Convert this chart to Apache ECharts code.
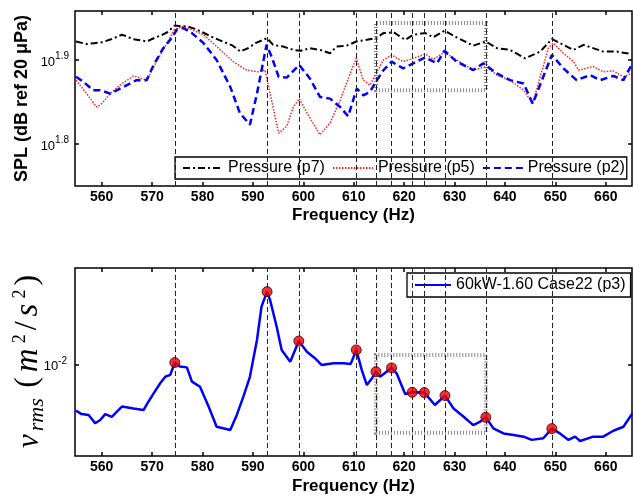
<!DOCTYPE html>
<html>
<head>
<meta charset="utf-8">
<script src="https://cdn.jsdelivr.net/npm/echarts@6/dist/echarts.min.js"></script>
<style>
html,body{margin:0;padding:0;background:#fff;}
#chart{width:633px;height:496px;}
</style>
</head>
<body>
<div id="chart"></div>
<script>
// ---------- data ----------
const freqTicks = [560, 570, 580, 590, 600, 610, 620, 630, 640, 650, 660];
const splTicksLog = [1.8, 1.9];
const vrmsTicksLog = [-2];

// Pressure (p7): frequency (Hz) and log10(SPL)
const p7Freq = [554.9,557,558.5,560,562,564,565,566,568,569,570,572,573,574.5,576,577,578.5,580,582,584,586,587.5,589,590.5,592.8,594,596,598,599.5,601.3,603.3,605.3,606.6,608.6,610.5,612.6,614.4,615.9,617.9,620.2,621.8,624.2,625.8,628,630.4,633.7,636.2,638.4,641,644,647,649.3,651.6,653.6,655.6,659.5,662.2,665.1];
const p7Log = [1.922,1.919,1.920,1.921,1.925,1.930,1.928,1.925,1.923,1.922,1.925,1.930,1.933,1.941,1.940,1.940,1.937,1.933,1.927,1.922,1.917,1.910,1.914,1.920,1.926,1.918,1.916,1.912,1.911,1.914,1.912,1.908,1.916,1.917,1.922,1.924,1.926,1.932,1.933,1.924,1.930,1.932,1.927,1.935,1.927,1.917,1.922,1.914,1.912,1.902,1.910,1.925,1.918,1.912,1.918,1.910,1.910,1.907];

// Pressure (p5)
const p5Freq = [554.9,557,559,560,561.7,563.6,566.3,569,570.3,572.2,574.4,576.2,577.9,580.2,582.8,586.1,588.7,591.1,592.4,593.4,595.1,596.7,598,599.2,600.7,603.3,605.3,607.3,609.3,610.5,611.9,613.2,614.6,615.9,617.5,619.8,621.8,624.2,625.8,628,630.4,633.7,636.2,638.4,641,643.7,645.5,647,648.6,649.6,651.6,653.6,654.6,657.5,659.5,661.5,663.5,665.1];
const p5Log = [1.876,1.860,1.844,1.848,1.860,1.870,1.881,1.876,1.892,1.912,1.936,1.940,1.936,1.930,1.916,1.898,1.888,1.886,1.888,1.860,1.813,1.821,1.844,1.854,1.837,1.811,1.825,1.852,1.884,1.902,1.876,1.870,1.886,1.900,1.906,1.898,1.902,1.907,1.901,1.909,1.900,1.888,1.892,1.882,1.876,1.864,1.848,1.880,1.914,1.920,1.908,1.898,1.888,1.892,1.886,1.887,1.880,1.884];

// Pressure (p2)
const p2Freq = [554.9,556.4,558.3,559.7,561.7,564.3,566.9,568.9,570.3,572.2,573.6,574.9,576.2,577.9,580.2,582.8,585.5,587.4,589.4,590.8,592.7,593.7,595.1,596.7,599.2,601.3,603.3,605.3,607.3,608.9,610.6,611.9,613.2,614.6,615.9,617.5,619.8,621.8,624.2,626.5,628,630.4,633.7,635.7,638.4,641,643.7,645.5,647.6,649.3,651.6,654.2,656.9,658.9,661.5,663.5,665.1];
const p2Log = [1.880,1.874,1.864,1.864,1.860,1.868,1.876,1.876,1.894,1.914,1.924,1.936,1.938,1.932,1.920,1.900,1.868,1.837,1.823,1.860,1.918,1.904,1.880,1.879,1.894,1.878,1.856,1.854,1.844,1.833,1.866,1.858,1.862,1.876,1.888,1.898,1.890,1.896,1.903,1.896,1.911,1.898,1.888,1.896,1.884,1.876,1.872,1.848,1.880,1.906,1.890,1.876,1.882,1.876,1.881,1.876,1.894];

// 60kW-1.60 Case22 (p3): frequency and log10(v_rms)
const vFreq = [554.9,556,557.4,558.7,559.7,560.7,562,564,566.3,568.3,569,570.3,571.6,572.6,573.6,574.5,575.5,576.9,577.9,579.5,581.2,582.8,584.1,585.5,586.8,588.1,589.4,590.8,591.7,592.8,593.4,594.7,595.7,597.4,599.1,600.7,602.3,603.6,606,608,609.4,610.5,611.6,612.6,613.6,614.4,615.2,617.5,618.5,620.2,621.6,624.0,626.1,628.1,629.8,631.8,633.7,635.1,636.2,637.7,639.7,641.7,643.7,645.3,647.6,649.3,650.9,652.6,653.9,654.9,657.5,659.5,661.5,663.5,665.3];
const vLog = [-2.171,-2.184,-2.187,-2.218,-2.206,-2.184,-2.194,-2.156,-2.163,-2.169,-2.146,-2.107,-2.069,-2.045,-2.038,-1.992,-2.007,-2.010,-2.063,-2.082,-2.156,-2.231,-2.237,-2.243,-2.187,-2.119,-2.045,-1.908,-1.784,-1.728,-1.759,-1.858,-1.945,-1.989,-1.912,-1.952,-1.976,-2.001,-1.995,-1.995,-1.997,-1.945,-2.020,-2.076,-2.051,-2.026,-2.045,-2.012,-2.032,-2.109,-2.103,-2.104,-2.150,-2.115,-2.163,-2.194,-2.225,-2.212,-2.196,-2.237,-2.256,-2.262,-2.268,-2.280,-2.274,-2.238,-2.256,-2.280,-2.268,-2.284,-2.268,-2.268,-2.246,-2.231,-2.181];

// peak markers and vertical reference lines
const peakFreqs = [574.5, 592.8, 599.1, 610.5, 614.4, 617.5, 621.6, 624.0, 628.1, 636.2, 649.3];
const peakVLog = [-1.992, -1.728, -1.912, -1.945, -2.026, -2.012, -2.103, -2.104, -2.115, -2.196, -2.238];

// zoom boxes (frequency span, log value span)
const boxFreq = [614.4, 636.2];
const boxTopLog = [1.864, 1.944];
const boxBottomLog = [-2.253, -1.964];

// ---------- chart ----------
const FONT = 'Liberation Sans';
const SERIF = 'Liberation Serif';
const zip = (a, b) => a.map((x, i) => [x, b[i]]);
const chart = echarts.init(document.getElementById('chart'), null, {renderer: 'canvas'});

const vLineMark = {
  silent: true,
  symbol: ['none', 'none'],
  label: {show: false},
  lineStyle: {color: '#222', type: [5, 3], width: 1},
  data: peakFreqs.map(f => ({xAxis: f}))
};
function boxMark(yv) {
  return {
    silent: true,
    itemStyle: {color: 'rgba(0,0,0,0)', borderColor: '#8a8a8a', borderWidth: 4, borderType: [1, 2]},
    data: [[{xAxis: boxFreq[0], yAxis: yv[0]}, {xAxis: boxFreq[1], yAxis: yv[1]}]]
  };
}
function xAx(grid, pos, showLabel, nameStr, nameGap) {
  return {
    type: 'value', gridIndex: grid, position: pos, min: 554.7, max: 665.2,
    axisLine: {show: false},
    splitLine: {show: false},
    axisTick: {show: true, inside: true, length: 4, customValues: freqTicks, lineStyle: {color: '#000', width: 1.5}},
    axisLabel: {show: showLabel, customValues: freqTicks, margin: 4, color: '#000', fontFamily: FONT, fontWeight: 'bold', fontSize: 14},
    name: nameStr, nameLocation: 'middle', nameGap: nameGap, nameMoveOverlap: false,
    nameTextStyle: {color: '#000', fontFamily: FONT, fontWeight: 'bold', fontSize: 17}
  };
}
const supRich = {
  b: {fontFamily: FONT, fontSize: 13, color: '#000', verticalAlign: 'bottom'},
  s: {fontFamily: FONT, fontSize: 10, color: '#000', verticalAlign: 'bottom', padding: [0, 0, 7, 0]}
};

const option = {
  animation: false,
  backgroundColor: '#fff',
  grid: [
    {left: 75, top: 11, width: 557, height: 175, show: true, borderColor: '#000', borderWidth: 1.5, containLabel: false, outerBoundsMode: 'none'},
    {left: 75, top: 268, width: 557, height: 188, show: true, borderColor: '#000', borderWidth: 1.5, containLabel: false, outerBoundsMode: 'none'}
  ],
  xAxis: [
    xAx(0, 'bottom', true, 'Frequency (Hz)', 21),
    xAx(0, 'top', false, '', 0),
    xAx(1, 'bottom', true, 'Frequency (Hz)', 22),
    xAx(1, 'top', false, '', 0)
  ],
  yAxis: [
    {
      type: 'value', gridIndex: 0, position: 'left', min: 1.75, max: 1.9583,
      axisLine: {show: false}, splitLine: {show: false},
      axisTick: {show: true, inside: true, length: 4, customValues: splTicksLog, lineStyle: {color: '#000', width: 1.5}},
      axisLabel: {
        customValues: splTicksLog, margin: 6, color: '#000',
        formatter: v => '{b|10}{s|' + v.toFixed(1) + '}',
        rich: supRich
      },
      name: 'SPL (dB ref 20 μPa)', nameLocation: 'middle', nameGap: 44, nameRotate: 90, nameMoveOverlap: false,
      nameTextStyle: {color: '#000', fontFamily: FONT, fontWeight: 'bold', fontSize: 18}
    },
    {
      type: 'value', gridIndex: 0, position: 'right', min: 1.75, max: 1.9583,
      axisLine: {show: false}, splitLine: {show: false},
      axisTick: {show: true, inside: true, length: 4, customValues: splTicksLog, lineStyle: {color: '#000', width: 1.5}},
      axisLabel: {show: false}
    },
    {
      type: 'value', gridIndex: 1, position: 'left', min: -2.34, max: -1.64,
      axisLine: {show: false}, splitLine: {show: false},
      axisTick: {show: true, inside: true, length: 4, customValues: vrmsTicksLog, lineStyle: {color: '#000', width: 1.5}},
      axisLabel: {
        customValues: vrmsTicksLog, margin: 8, color: '#000',
        formatter: v => '{b|10}{s|' + v.toFixed(0) + '}',
        rich: supRich
      },
      name: '{v|v}{sub|rms}{sp| }{p|(}{m|m}{sup|2}{sl|/}{m|s}{sup|2}{p|)}',
      nameLocation: 'middle', nameGap: 27, nameRotate: 90, nameMoveOverlap: false,
      nameTextStyle: {
        color: '#000',
        rich: {
          v: {fontFamily: SERIF, fontStyle: 'italic', fontSize: 31, color: '#000', verticalAlign: 'bottom', padding: [0, 2, 3, 3]},
          sub: {fontFamily: SERIF, fontStyle: 'italic', fontSize: 22, color: '#000', verticalAlign: 'bottom', padding: [0, 4, 0, 1]},
          sp: {fontSize: 16},
          p: {fontFamily: SERIF, fontSize: 32, color: '#000', verticalAlign: 'bottom', padding: [0, 2, 4, 2]},
          m: {fontFamily: SERIF, fontStyle: 'italic', fontSize: 33, color: '#000', verticalAlign: 'bottom', padding: [0, 3, 3, 3]},
          sl: {fontFamily: SERIF, fontSize: 32, color: '#000', verticalAlign: 'bottom', padding: [0, 2, 4, 2]},
          sup: {fontFamily: SERIF, fontSize: 18, color: '#000', verticalAlign: 'bottom', padding: [0, 2, 19, 2]}
        }
      }
    },
    {
      type: 'value', gridIndex: 1, position: 'right', min: -2.34, max: -1.64,
      axisLine: {show: false}, splitLine: {show: false},
      axisTick: {show: true, inside: true, length: 4, customValues: vrmsTicksLog, lineStyle: {color: '#000', width: 1.5}},
      axisLabel: {show: false}
    }
  ],
  legend: [
    {
      data: ['Pressure (p7)', 'Pressure (p5)', 'Pressure (p2)'],
      left: 175, top: 157, orient: 'horizontal',
      itemWidth: 40, itemHeight: 16, itemGap: 7,
      padding: [3, 2, 3, 7],
      itemStyle: {opacity: 0},
      backgroundColor: '#fff', borderColor: '#000', borderWidth: 1.3,
      textStyle: {fontFamily: FONT, fontSize: 16, color: '#000'},
      selectedMode: false
    },
    {
      data: ['60kW-1.60 Case22 (p3)'],
      left: 407, top: 273, orient: 'horizontal',
      itemWidth: 36, itemHeight: 16,
      padding: [4, 5, 4, 7],
      itemStyle: {opacity: 0},
      backgroundColor: '#fff', borderColor: '#000', borderWidth: 1.3,
      textStyle: {fontFamily: FONT, fontSize: 16, color: '#000'},
      selectedMode: false
    }
  ],
  series: [
    {
      name: 'Pressure (p7)', type: 'line', xAxisIndex: 0, yAxisIndex: 0,
      data: zip(p7Freq, p7Log), symbol: 'none', smooth: false,
      itemStyle: {color: '#000'},
      lineStyle: {color: '#000', width: 2, type: [7, 3, 2, 3]},
      markLine: vLineMark,
      markArea: boxMark(boxTopLog),
      z: 3
    },
    {
      name: 'Pressure (p5)', type: 'line', xAxisIndex: 0, yAxisIndex: 0,
      data: zip(p5Freq, p5Log), symbol: 'none',
      itemStyle: {color: '#ff2020'},
      lineStyle: {color: '#ff2020', width: 1.5, type: [1.5, 1.5]},
      z: 3
    },
    {
      name: 'Pressure (p2)', type: 'line', xAxisIndex: 0, yAxisIndex: 0,
      data: zip(p2Freq, p2Log), symbol: 'none',
      itemStyle: {color: '#0000ff'},
      lineStyle: {color: '#0000ff', width: 2.5, type: [7, 4]},
      z: 4
    },
    {
      name: '60kW-1.60 Case22 (p3)', type: 'line', xAxisIndex: 2, yAxisIndex: 2,
      data: zip(vFreq, vLog), symbol: 'none',
      itemStyle: {color: '#0000ff'},
      lineStyle: {color: '#0000ff', width: 2.5, type: 'solid'},
      markLine: vLineMark,
      markArea: boxMark(boxBottomLog),
      z: 3
    },
    {
      name: 'peaks', type: 'scatter', xAxisIndex: 2, yAxisIndex: 2,
      data: zip(peakFreqs, peakVLog), symbol: 'circle', symbolSize: 10,
      itemStyle: {color: '#ee0000', borderColor: '#400000', borderWidth: 1},
      z: 5
    }
  ]
};
chart.setOption(option);
</script>
</body>
</html>
